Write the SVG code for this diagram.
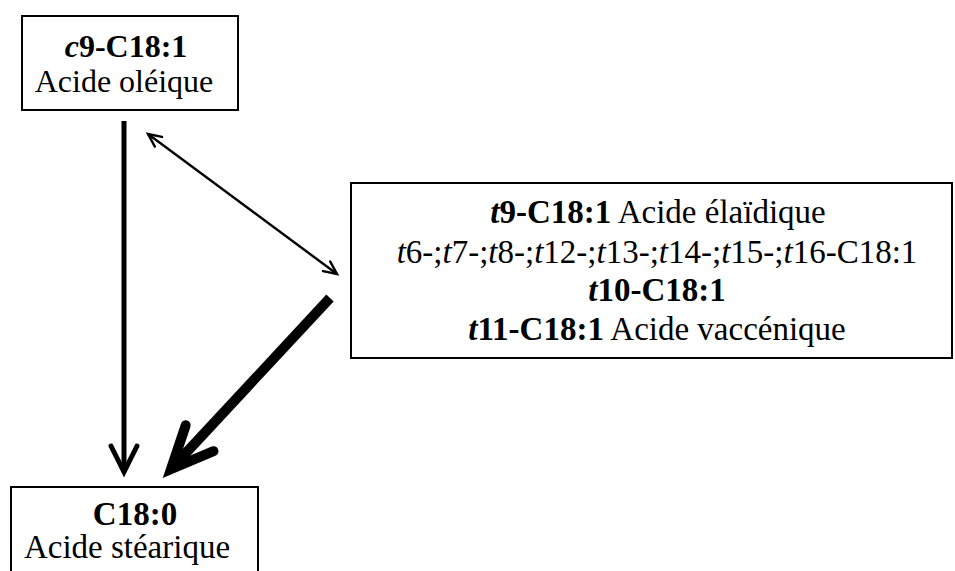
<svg xmlns="http://www.w3.org/2000/svg" width="955" height="571" viewBox="0 0 955 571">
<style>
.box{fill:#fff;stroke:#000;stroke-width:2}
.t{fill:#000;text-anchor:middle}
.b{font-weight:bold}
.i{font-style:italic}
.ln{fill:none;stroke:#000;stroke-linecap:butt}
.hd{fill:none;stroke:#000;stroke-linecap:round;stroke-linejoin:miter}
</style>
<defs>
<marker id="hs" markerUnits="userSpaceOnUse" orient="auto-start-reverse" overflow="visible" markerWidth="1" markerHeight="1" refX="0" refY="0">
<path class="hd" d="M-13,-6 L0,0 L-13,6" stroke-width="2.4"/>
</marker>
<marker id="hm" markerUnits="userSpaceOnUse" orient="auto" overflow="visible" markerWidth="1" markerHeight="1" refX="0" refY="0">
<path class="hd" d="M-26,-13 L0,0 L-26,13" stroke-width="5"/>
</marker>
<marker id="hl" markerUnits="userSpaceOnUse" orient="auto" overflow="visible" markerWidth="1" markerHeight="1" refX="0" refY="0">
<path class="hd" d="M-42,-19 L0,0 L-42,19" stroke-width="10"/>
</marker>
</defs>
<g id="connectors">
<line class="ln" x1="124" y1="121" x2="124" y2="472" stroke-width="5" marker-end="url(#hm)"/>
<line class="ln" x1="148" y1="134" x2="337" y2="274" stroke-width="2.4" marker-start="url(#hs)" marker-end="url(#hs)"/>
<line class="ln" x1="330" y1="298" x2="171" y2="469" stroke-width="10" marker-end="url(#hl)"/>
</g>
<g font-family="Liberation Serif, DejaVu Serif, serif">
<g id="node-oleique">
<rect class="box" x="22" y="16" width="216" height="94"/>
<text class="t b" x="126" y="57" font-size="32"><tspan class="i">c</tspan>9-C18:1</text>
<text class="t" x="124" y="92" font-size="32">Acide oléique</text>
</g>
<g id="node-trans">
<rect class="box" x="351" y="183" width="601" height="175"/>
<text class="t" x="658" y="223" font-size="33"><tspan class="b"><tspan class="i">t</tspan>9-C18:1</tspan> Acide élaïdique</text>
<text class="t" x="657" y="263" font-size="33"><tspan class="i">t</tspan>6-;<tspan class="i">t</tspan>7-;<tspan class="i">t</tspan>8-;<tspan class="i">t</tspan>12-;<tspan class="i">t</tspan>13-;<tspan class="i">t</tspan>14-;<tspan class="i">t</tspan>15-;<tspan class="i">t</tspan>16-C18:1</text>
<text class="t b" x="657" y="301" font-size="33"><tspan class="i">t</tspan>10-C18:1</text>
<text class="t" x="657" y="340" font-size="33"><tspan class="b"><tspan class="i">t</tspan>11-C18:1</tspan> Acide vaccénique</text>
</g>
<g id="node-stearique">
<rect class="box" x="11" y="487" width="247" height="100"/>
<text class="t b" x="135" y="525" font-size="33">C18:0</text>
<text class="t" x="127" y="558" font-size="33">Acide stéarique</text>
</g>
</g>
</svg>
